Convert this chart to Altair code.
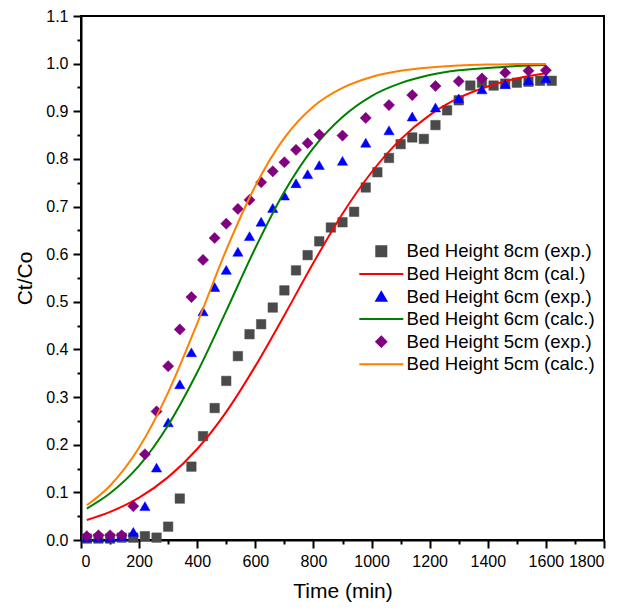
import altair as alt
import pandas as pd

# ---- data ----
t8 = [20, 60, 100, 140, 180, 220, 260, 300, 340, 380, 420, 460, 500, 540, 580, 620, 660, 700,
      740, 780, 820, 860, 900, 940, 980, 1020, 1060, 1100, 1140, 1180, 1220, 1260, 1300, 1340,
      1380, 1420, 1460, 1500, 1540, 1580, 1620]
c8 = [0.003, 0.003, 0.003, 0.005, 0.005, 0.008, 0.005, 0.028, 0.087, 0.154, 0.218, 0.277, 0.334,
      0.386, 0.432, 0.453, 0.488, 0.524, 0.566, 0.598, 0.627, 0.656, 0.667, 0.689, 0.740, 0.772,
      0.802, 0.831, 0.845, 0.842, 0.871, 0.902, 0.923, 0.954, 0.960, 0.954, 0.958, 0.960, 0.962,
      0.964, 0.964]

t6 = [20, 60, 100, 140, 180, 220, 260, 300, 340, 380, 420, 460, 500, 540, 580, 620, 660, 700,
      740, 780, 820, 900, 980, 1060, 1140, 1220, 1300, 1380, 1460, 1540, 1600]
c6 = [0.005, 0.005, 0.005, 0.008, 0.017, 0.071, 0.152, 0.247, 0.327, 0.394, 0.480, 0.531, 0.567,
      0.605, 0.638, 0.668, 0.697, 0.723, 0.749, 0.768, 0.787, 0.796, 0.834, 0.860, 0.889, 0.908,
      0.927, 0.946, 0.957, 0.965, 0.969]

t5 = t6
c5 = [0.008, 0.010, 0.010, 0.010, 0.071, 0.180, 0.270, 0.365, 0.442, 0.510, 0.588, 0.634, 0.664,
      0.695, 0.714, 0.751, 0.774, 0.793, 0.819, 0.833, 0.851, 0.849, 0.886, 0.913, 0.934, 0.953,
      0.963, 0.969, 0.981, 0.985, 0.986]

tc = [20, 100, 200, 300, 400, 500, 600, 700, 800, 900, 1000, 1100, 1200, 1300, 1400, 1500, 1600]
cal8 = [0.042, 0.059, 0.089, 0.132, 0.191, 0.269, 0.365, 0.472, 0.582, 0.685, 0.772, 0.841,
        0.892, 0.928, 0.952, 0.969, 0.980]
cal6 = [0.066, 0.098, 0.156, 0.241, 0.352, 0.481, 0.613, 0.731, 0.823, 0.888, 0.932, 0.959,
        0.976, 0.986, 0.991, 0.995, 0.997]
cal5 = [0.073, 0.114, 0.194, 0.310, 0.455, 0.609, 0.743, 0.844, 0.910, 0.949, 0.972, 0.985,
        0.992, 0.996, 0.998, 0.999, 0.999]

names = ["Bed Height 8cm (exp.)", "Bed Height 8cm (cal.)", "Bed Height 6cm (exp.)",
         "Bed Height 6cm (calc.)", "Bed Height 5cm (exp.)", "Bed Height 5cm (calc.)"]
colors = ["#4a4a4a", "#ff0000", "#0000ff", "#008000", "#800080", "#ff8000"]
LINE_SYMBOL = "M-4.4,0H4.4"
shapes = ["square", LINE_SYMBOL, "triangle-up", LINE_SYMBOL, "diamond", LINE_SYMBOL]

x_major = [0, 200, 400, 600, 800, 1000, 1200, 1400, 1600, 1800]
x_minor = [100, 300, 500, 700, 900, 1100, 1300, 1500, 1700]
y_major = [0.0, 0.1, 0.2, 0.3, 0.4, 0.5, 0.6, 0.7, 0.8, 0.9, 1.0, 1.1]
y_minor = [0.05, 0.15, 0.25, 0.35, 0.45, 0.55, 0.65, 0.75, 0.85, 0.95, 1.05]

FONT = "Liberation Sans"


def frame(t, c, name):
    return pd.DataFrame({"t": t, "c": c, "series": name})


xscale = alt.Scale(domain=[0, 1800], nice=False, zero=False)
yscale = alt.Scale(domain=[0, 1.1], nice=False, zero=False)

x_main = alt.X("t:Q", scale=xscale,
               axis=alt.Axis(values=x_major, format="d", title="Time (min)", orient="bottom",
                             tickSize=8, labelPadding=5, titlePadding=11))
y_main = alt.Y("c:Q", scale=yscale,
               axis=alt.Axis(values=y_major, format=".1f", title="Ct/Co", orient="left",
                             tickSize=8, labelPadding=5, titlePadding=10))

legend = alt.Legend(
    title=None, orient="none", legendX=291, legendY=226, padding=0,
    labelFont=FONT, labelFontSize=18.6, labelColor="black", labelOffset=16, labelLimit=0,
    symbolSize=100, symbolStrokeWidth=2, rowPadding=3.6,
)

fill = alt.Fill("series:N", scale=alt.Scale(domain=names, range=colors), legend=legend)
stroke = alt.Stroke("series:N", scale=alt.Scale(domain=names, range=colors), legend=legend)
shape = alt.Shape("series:N", scale=alt.Scale(domain=names, range=shapes), legend=legend)


def points(df, size):
    return alt.Chart(df).mark_point(filled=True, size=size, opacity=1, strokeWidth=0.5).encode(
        x=x_main, y=y_main, fill=fill, stroke=stroke, shape=shape)


def line(df):
    return alt.Chart(df).mark_line(strokeWidth=2, interpolate="monotone").encode(
        x=x_main, y=y_main, stroke=stroke)


minor_df = pd.DataFrame({"t": [0, 1800], "c": [0, 1.1]})
minor = alt.Chart(minor_df).mark_point(opacity=0).encode(
    x=alt.X("t:Q", scale=xscale, axis=alt.Axis(values=x_minor, labels=False, domain=False,
                                               title=None, tickSize=4, orient="bottom")),
    y=alt.Y("c:Q", scale=yscale, axis=alt.Axis(values=y_minor, labels=False, domain=False,
                                               title=None, tickSize=4, orient="left")),
)

main = alt.layer(
    points(frame(t8, c8, names[0]), 90),
    line(frame(tc, cal8, names[1])),
    points(frame(t6, c6, names[2]), 105),
    line(frame(tc, cal6, names[3])),
    points(frame(t5, c5, names[4]), 125),
    line(frame(tc, cal5, names[5])),
)

chart = alt.layer(minor, main).resolve_axis(x="independent", y="independent").properties(
    width=523, height=524,
    autosize=alt.AutoSizeParams(type="none"),
    padding={"left": 73, "top": 8, "right": 14, "bottom": 64},
).configure_view(stroke="black", strokeWidth=2).configure_axis(
    domainColor="black", domainWidth=2, tickColor="black", tickWidth=2, grid=False,
    labelFont=FONT, labelFontSize=16, labelColor="black",
    titleFont=FONT, titleFontSize=21, titleFontWeight="normal", titleColor="black",
)

chart.save("out.html", embed_options={"renderer": "svg", "actions": False})
